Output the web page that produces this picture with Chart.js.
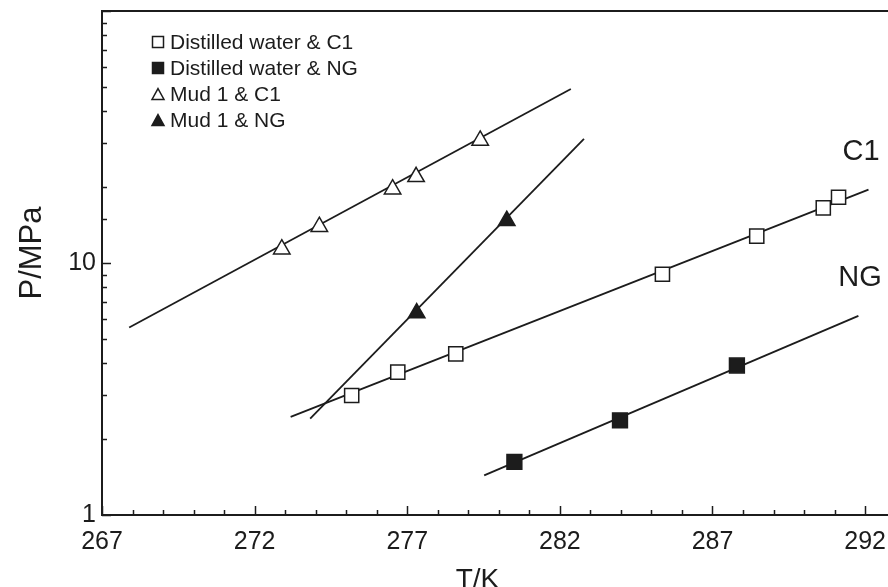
<!DOCTYPE html>
<html>
<head>
<meta charset="utf-8">
<script src="https://cdn.jsdelivr.net/npm/chart.js@4.4.1/dist/chart.umd.min.js"></script>
<style>
  html, body { margin: 0; padding: 0; background: #fff; }
</style>
</head>
<body>
<canvas id="chart" width="888" height="587"></canvas>
<script>
// measured points, T in K, P in MPa
const seriesNames = ['Distilled water & C1', 'Distilled water & NG', 'Mud 1 & C1', 'Mud 1 & NG'];

const waterC1T = [275.18, 276.69, 278.59, 285.36, 288.45, 290.63, 291.13];
const waterC1P = [2.98, 3.69, 4.36, 9.02, 12.79, 16.55, 18.23];
const waterNGT = [280.51, 283.97, 287.8];
const waterNGP = [1.625, 2.375, 3.92];
const mudC1T = [272.89, 274.12, 276.52, 277.29, 279.39];
const mudC1P = [11.34, 13.94, 19.63, 21.97, 30.65];
const mudNGT = [277.31, 280.26];
const mudNGP = [6.33, 14.72];

// fitted lines (end points)
const fitWaterC1T = [273.18, 292.11];
const fitWaterC1P = [2.45, 19.56];
const fitWaterNGT = [279.52, 291.78];
const fitWaterNGP = [1.436, 6.17];
const fitMudC1T = [267.89, 282.36];
const fitMudC1P = [5.55, 49.04];
const fitMudNGT = [273.82, 282.79];
const fitMudNGP = [2.41, 31.1];

const xTickLabels = [267, 272, 277, 282, 287, 292];
const yTickLabels = [1, 10];

const ink = '#1c1c1c';
const sans = '"Liberation Sans", Arial, sans-serif';

function pts(xs, ys) {
  return xs.map((x, i) => ({ x: x, y: ys[i] }));
}

function markerSet(label, xs, ys, style, filled, r) {
  return {
    label: label,
    data: pts(xs, ys),
    pointStyle: style,
    pointRadius: r,
    pointBackgroundColor: filled ? ink : '#fff',
    pointBorderColor: ink,
    pointBorderWidth: 1.5,
    showLine: false,
    order: 1,
  };
}

function fitLine(xs, ys) {
  return {
    label: '',
    data: pts(xs, ys),
    showLine: true,
    borderColor: ink,
    borderWidth: 1.8,
    pointRadius: 0,
    order: 2,
    fit: true,
  };
}

function drawMarker(ctx, style, filled, x, y, size) {
  ctx.save();
  ctx.lineWidth = 1.5;
  ctx.strokeStyle = ink;
  ctx.fillStyle = filled ? ink : '#fff';
  ctx.beginPath();
  if (style === 'rect') {
    ctx.rect(x - size / 2, y - size / 2, size, size);
  } else {
    const h = size * 0.9;
    ctx.moveTo(x, y - h / 2);
    ctx.lineTo(x + size / 2, y + h / 2);
    ctx.lineTo(x - size / 2, y + h / 2);
    ctx.closePath();
  }
  ctx.fill();
  ctx.stroke();
  ctx.restore();
}

const decorations = {
  id: 'decorations',
  afterDraw(chart) {
    const { ctx, chartArea: a, scales } = chart;
    const xs = scales.x, ys = scales.y;
    ctx.save();

    // frame
    ctx.strokeStyle = ink;
    ctx.lineWidth = 2;
    ctx.beginPath();
    ctx.moveTo(a.right, a.top);
    ctx.lineTo(a.left, a.top);
    ctx.lineTo(a.left, a.bottom);
    ctx.lineTo(a.right, a.bottom);
    ctx.stroke();

    // inward ticks
    ctx.lineWidth = 1.5;
    ctx.beginPath();
    xs.ticks.forEach((t) => {
      const px = Math.round(xs.getPixelForValue(t.value)) + 0.5;
      const len = (t.value - 267) % 5 === 0 ? 9 : 5;
      ctx.moveTo(px, a.bottom);
      ctx.lineTo(px, a.bottom - len);
    });
    ys.ticks.forEach((t) => {
      const py = Math.round(ys.getPixelForValue(t.value)) + 0.5;
      const major = Math.abs(Math.log10(t.value) % 1) < 1e-9;
      ctx.moveTo(a.left, py);
      ctx.lineTo(a.left + (major ? 9 : 5), py);
    });
    ctx.stroke();

    // axis titles
    ctx.fillStyle = ink;
    ctx.font = '28px ' + sans;
    ctx.textAlign = 'center';
    ctx.textBaseline = 'alphabetic';
    ctx.fillText('T/K', xs.getPixelForValue(279.3), 588);
    ctx.save();
    ctx.translate(41, 253);
    ctx.rotate(-Math.PI / 2);
    ctx.font = '31px ' + sans;
    ctx.fillText('P/MPa', 0, 0);
    ctx.restore();

    // curve names
    ctx.font = '29px ' + sans;
    ctx.textBaseline = 'middle';
    ctx.fillText('C1', 861, 152);
    ctx.fillText('NG', 860, 278);

    // legend
    ctx.font = '21px ' + sans;
    ctx.textAlign = 'left';
    const rows = chart.data.datasets.filter((d) => !d.fit);
    rows.forEach((d, i) => {
      const y = 42 + i * 26;
      const filled = d.pointBackgroundColor !== '#fff';
      drawMarker(ctx, d.pointStyle, filled, 158, y, d.pointStyle === 'rect' ? 11 : 12);
      ctx.fillStyle = ink;
      ctx.fillText(d.label, 170, y + 1);
    });

    ctx.restore();
  },
};

new Chart(document.getElementById('chart'), {
  type: 'scatter',
  data: {
    datasets: [
      markerSet(seriesNames[0], waterC1T, waterC1P, 'rect', false, 10),
      markerSet(seriesNames[1], waterNGT, waterNGP, 'rect', true, 10.5),
      markerSet(seriesNames[2], mudC1T, mudC1P, 'triangle', false, 9.5),
      markerSet(seriesNames[3], mudNGT, mudNGP, 'triangle', true, 9.5),
      fitLine(fitWaterC1T, fitWaterC1P),
      fitLine(fitWaterNGT, fitWaterNGP),
      fitLine(fitMudC1T, fitMudC1P),
      fitLine(fitMudNGT, fitMudNGP),
    ],
  },
  options: {
    responsive: false,
    animation: false,
    layout: { autoPadding: false, padding: { top: 11, right: 0, left: 0, bottom: 0 } },
    plugins: {
      legend: { display: false },
      tooltip: { enabled: false },
    },
    scales: {
      x: {
        type: 'linear',
        min: 267,
        max: 292.75,
        grid: { display: false, drawTicks: false },
        border: { display: false },
        afterFit: (scale) => {
          scale.height = 72;
          scale.paddingLeft = 0;
          scale.paddingRight = 0;
        },
        afterBuildTicks: (scale) => {
          const ticks = [];
          for (let v = xTickLabels[0]; v <= xTickLabels[xTickLabels.length - 1]; v++) {
            ticks.push({ value: v });
          }
          scale.ticks = ticks;
        },
        ticks: {
          autoSkip: false,
          maxRotation: 0,
          padding: 12,
          color: ink,
          font: { family: sans, size: 25 },
          callback: (v) => (xTickLabels.includes(Math.round(v)) ? String(Math.round(v)) : ''),
        },
      },
      y: {
        type: 'logarithmic',
        min: 1,
        max: 100,
        grid: { display: false, drawTicks: false },
        border: { display: false },
        afterFit: (scale) => {
          scale.width = 102;
          scale.paddingTop = 0;
          scale.paddingBottom = 0;
        },
        ticks: {
          autoSkip: false,
          padding: 6,
          color: ink,
          font: { family: sans, size: 25 },
          callback: (v) => (yTickLabels.includes(v) ? String(v) : ''),
        },
      },
    },
  },
  plugins: [decorations],
});
</script>
</body>
</html>
